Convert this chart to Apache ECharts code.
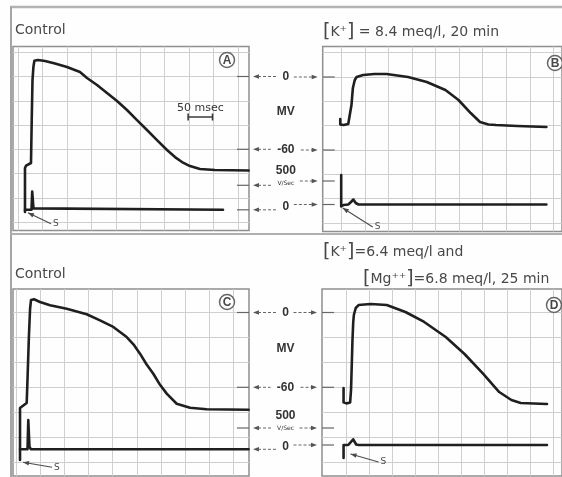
<!DOCTYPE html>
<html>
<head>
<meta charset="utf-8">
<script src="https://cdn.jsdelivr.net/npm/echarts@6/dist/echarts.min.js"></script>
<style>
html,body{margin:0;padding:0;background:#fefefe}
#c{width:562px;height:477px}
</style>
</head>
<body>
<div id="c"></div>
<script>
// Transmembrane action potentials (mV) and their upstroke velocity (V/sec).
// Time in msec, counted from the first vertical graticule line of each sweep.

// A: control
const apA = [[13.7,-111.7],[13.7,-75.4],[16,-73.5],[26,-71.3],[27.5,-36],[29.1,-3],[31,8],[33,13],[36.3,14],[40.4,13.6],[54.7,12.8],[75.2,10.7],[99.8,7.8],[126.4,3.7],[140.8,-1.2],[161.3,-7],[181.8,-13.6],[202.3,-20.2],[222.7,-27.6],[243.2,-35.9],[263.7,-44.1],[284.2,-52.4],[304.7,-60.6],[321.1,-66.4],[335.5,-70.5],[351.8,-73.8],[372.3,-76.3],[403.1,-77.1],[472,-77.5]];
const dvA = [[13.7,0],[27,0],[28.5,370],[31.1,30],[34.2,0],[419.5,0]];

// B: [K+] = 8.4 meq/l, 20 min
const apB = [[-2.4,-34.5],[-2.4,-39],[4.6,-39.5],[14.5,-38.6],[18.5,-37],[21.4,-23],[24.4,-9],[28.4,-2.5],[32.3,0],[46.2,1.6],[70,2.5],[95.8,2.5],[141.5,0],[181.2,-4.1],[220.8,-10.7],[248.6,-18.9],[274.4,-29.6],[294.2,-37],[312.1,-39],[327.9,-39.5],[373.6,-40.3],[435.1,-41.1]];
const dvB = [[-0.4,628],[-0.4,-43],[4.6,-10],[14.5,0],[20.4,53],[25.4,106],[30.4,32],[36.3,0],[435.1,0]];

// C: control
const apC = [[8.7,-118.3],[8.7,-76.6],[12,-75],[16.9,-74.2],[22.5,-72.6],[24.5,-50],[27,-20],[29.5,3],[31.4,10],[32.9,11.1],[37.6,10.6],[50,8.4],[70.7,5.8],[105.2,3],[146.5,-1.4],[174,-6.3],[201.4,-11.6],[229.1,-19.7],[243,-25.5],[256.6,-33],[270,-41.5],[284.1,-49.1],[298,-58],[311.8,-65.1],[332.4,-73.2],[359.9,-76.4],[394.4,-77.6],[481,-78]];
const dvC = [[8.7,0],[24.2,0],[25.8,688],[28.3,54],[31.4,0],[481,0]];

// D: [K+] = 6.4 meq/l and [Mg++] = 6.8 meq/l, 25 min
const apD = [[-5.5,-60.6],[-5.5,-72.1],[0.6,-72.9],[8.8,-72.1],[10.8,-61.6],[12.5,-40],[13.9,-22.1],[15.5,-8],[16.9,-2],[21,3.6],[27.1,6],[53.7,6.8],[88.4,6],[129.2,0.4],[170,-7.6],[216.9,-19.7],[257.8,-33.3],[298.6,-49.3],[333.3,-63.8],[359.8,-70.2],[380.2,-72.6],[437.3,-73.4]];
const dvD = [[-5.5,-382],[-5.5,0],[4.7,0],[8.8,0],[15.5,168],[22,15],[27.1,0],[437.3,0]];

// graticule and calibration marks
const timeTicks = [0,50,100,150,200,250,300,350,400,450];
const mvTicks = [20,0,-20,-40,-60,-80,-100,-120];
const mvMarks = [0,-60];
const vsMarks = [500,0];
const scaleBarMs = 50;

const panelLetters = ['A','B','C','D'];
const panelTitles = ['Control','{b|[}K\u207A{b|]} = 8.4 meq/l, 20 min','Control','{b|[}K\u207A{b|]}=6.4 meq/l and','{b|[}Mg\u207A\u207A{b|]}=6.8 meq/l, 25 min'];

// layout: box [left, top, width, height]; pixel column of t = 0; px per msec;
// pixel rows of 0 / -60 mV and of 0 / 500 V/sec
const layout = [
  {box:[13,46.5,236,184], t0:18.3, k:0.488, mv:[76.5,149.3], vs:[209.8,185.3], s:[3,3,26,14], circ:[227,60]},
  {box:[322.7,46.5,256,185], t0:342.7, k:0.504, mv:[77,150], vs:[204.5,181], s:[1.5,3.5,31.5,22.5], circ:[555,63]},
  {box:[13,289,236,187], t0:15.8, k:0.484, mv:[312.5,387.3], vs:[449.3,428], s:[3,13,32,18], circ:[227,302]},
  {box:[322,289,256,187], t0:347.7, k:0.49, mv:[312.5,387.3], vs:[445,428], s:[7,9,35,17], circ:[554,305]}
];
const traces = [[apA,dvA],[apB,dvB],[apC,dvC],[apD,dvD]];

const INK = '#1f1f1f';
const GRAT = '#cfcfcf';
const TXT = '#484848';
const FONT = '"DejaVu Sans", sans-serif';

function yRange(top, h, pix0, pixRef, refVal) {
  const k = (pix0 - pixRef) / refVal;
  return {max: (pix0 - top) / k, min: -(top + h - pix0) / k};
}
function xRange(left, w, pix0, k) {
  return {min: -(pix0 - left) / k, max: (left + w - pix0) / k};
}

const grids = [], xAxes = [], yAxes = [], series = [];
layout.forEach((L, i) => {
  const [l, t, w, h] = L.box;
  grids.push({left: l, top: t, width: w, height: h, show: true, borderColor: '#8f8f8f', borderWidth: 1.5, backgroundColor: 'transparent', containLabel: false});
  const xr = xRange(l, w, L.t0, L.k);
  xAxes.push({gridIndex: i, type: 'value', min: xr.min, max: xr.max,
    axisLine: {show: false}, axisLabel: {show: false},
    axisTick: {show: false, customValues: timeTicks},
    splitLine: {show: true, lineStyle: {color: GRAT, width: 1}}});
  const mr = yRange(t, h, L.mv[0], L.mv[1], -60);
  yAxes.push({gridIndex: i, type: 'value', min: mr.min, max: mr.max,
    axisLine: {show: false}, axisLabel: {show: false},
    axisTick: {show: false, customValues: mvTicks},
    splitLine: {show: true, lineStyle: {color: GRAT, width: 1}}});
  const vr = yRange(t, h, L.vs[0], L.vs[1], 500);
  yAxes.push({gridIndex: i, type: 'value', min: vr.min, max: vr.max, show: false, splitLine: {show: false}});
  series.push({type: 'line', xAxisIndex: i, yAxisIndex: 2 * i, data: traces[i][0], showSymbol: false, symbol: 'none',
    lineStyle: {color: INK, width: 2.6, join: 'round', cap: 'round'}, z: 3, clip: false});
  series.push({type: 'line', xAxisIndex: i, yAxisIndex: 2 * i + 1, data: traces[i][1], showSymbol: false, symbol: 'none',
    lineStyle: {color: INK, width: 2.6, join: 'round', cap: 'round'}, z: 3, clip: false});
});

// 50 msec calibration bar in panel A
const barStart = 348, barLevel = -33.4;
series.push({type: 'line', xAxisIndex: 0, yAxisIndex: 0,
  data: [[barStart, barLevel], [barStart + scaleBarMs, barLevel]],
  symbol: 'rect', symbolSize: [1.6, 7], showSymbol: true,
  itemStyle: {color: '#3a3a3a'}, lineStyle: {color: '#3a3a3a', width: 1.4}, z: 4});

const chart = echarts.init(document.getElementById('c'));
chart.setOption({
  animation: false,
  backgroundColor: '#fefefe',
  grid: grids, xAxis: xAxes, yAxis: yAxes, series: series
});

// annotations placed from the axes
const g = [];
function line(x1, y1, x2, y2, stroke, lw, dash) {
  g.push({type: 'line', shape: {x1, y1, x2, y2}, style: {stroke, lineWidth: lw, lineDash: dash || null}, silent: true});
}
function text(x, y, s, size, align, extra) {
  g.push(Object.assign({type: 'text', x, y, silent: true, style: Object.assign({text: s, fill: TXT,
    font: size + 'px ' + FONT, textAlign: align || 'left', textVerticalAlign: 'middle'}, extra && extra.style || {})}, extra && extra.el || {}));
}
function arrowHead(x, y, dir) {
  g.push({type: 'polygon', shape: {points: [[x, y], [x - 6 * dir, y - 2.3], [x - 6 * dir, y + 2.3]]}, style: {fill: '#555'}, silent: true});
}

// outer frame and divider
line(10, 7, 562, 7, '#b3b3b3', 2.5);
line(11, 7, 11, 477, '#a5a5a5', 2);
line(10, 234, 562, 234, '#b0b0b0', 2);

// titles
const rich = {b: {fontSize: 19, fill: TXT, fontFamily: FONT}};
text(15, 30, panelTitles[0], 14);
text(323, 32, panelTitles[1], 14, 'left', {style: {rich}});
text(15, 274, panelTitles[2], 14);
text(323, 252, panelTitles[3], 14, 'left', {style: {rich}});
text(363, 279, panelTitles[4], 14, 'left', {style: {rich}});

// circled panel letters
layout.forEach((L, i) => {
  g.push({type: 'circle', shape: {cx: L.circ[0], cy: L.circ[1], r: 7.5}, style: {fill: '#fff', stroke: '#666', lineWidth: 1.5}, silent: true});
  text(L.circ[0], L.circ[1] + 0.5, panelLetters[i], 8, 'center', {style: {fontWeight: 'bold'}});
});

// stimulus markers
layout.forEach((L, i) => {
  const p = chart.convertToPixel({xAxisIndex: i, yAxisIndex: 2 * i + 1}, [traces[i][1][0][0], 0]);
  const [a, b, c, d] = L.s;
  line(p[0] + a, p[1] + b, p[0] + c, p[1] + d, '#4a4a4a', 1.1);
  const ang = Math.atan2(d - b, c - a);
  const hx = p[0] + a, hy = p[1] + b;
  g.push({type: 'polygon', shape: {points: [[hx, hy],
    [hx + 6 * Math.cos(ang) - 2.3 * Math.sin(ang), hy + 6 * Math.sin(ang) + 2.3 * Math.cos(ang)],
    [hx + 6 * Math.cos(ang) + 2.3 * Math.sin(ang), hy + 6 * Math.sin(ang) - 2.3 * Math.cos(ang)]]},
    style: {fill: '#4a4a4a'}, silent: true});
  text(p[0] + c + 2, p[1] + d, 'S', 9, 'left');
});

// 50 msec label
const bp = chart.convertToPixel({xAxisIndex: 0, yAxisIndex: 0}, [barStart + scaleBarMs / 2, barLevel]);
text(bp[0], bp[1] - 9, scaleBarMs + ' msec', 11, 'center', {style: {fill: '#333'}});

// calibration arrows between the panel pairs
[[0, 1], [2, 3]].forEach(([li, ri]) => {
  const Lb = layout[li].box, Rb = layout[ri].box;
  const xr = Lb[0] + Lb[2], xl = Rb[0];
  const cx = (xr + xl) / 2;
  const lv = [], rv = [];
  mvMarks.forEach(v => {
    lv.push(chart.convertToPixel({yAxisIndex: 2 * li}, v));
    rv.push(chart.convertToPixel({yAxisIndex: 2 * ri}, v));
  });
  vsMarks.forEach(v => {
    lv.push(chart.convertToPixel({yAxisIndex: 2 * li + 1}, v));
    rv.push(chart.convertToPixel({yAxisIndex: 2 * ri + 1}, v));
  });
  const labels = [String(mvMarks[0]), String(mvMarks[1]), '', String(vsMarks[1])];
  const gaps = [8, 15, 14, 8];
  for (let j = 0; j < 4; j++) {
    const yl = lv[j], yr = rv[j];
    line(xr - 12, yl, xr, yl, '#666', 1.2);
    arrowHead(xr + 4, yl, -1);
    line(xr + 9, yl, cx - gaps[j], yl, '#666', 1, [3, 2]);
    line(cx + gaps[j], yr, xl - 9, yr, '#666', 1, [3, 2]);
    arrowHead(xl - 5, yr, 1);
    line(xl, yr, xl + 12, yr, '#666', 1.2);
    if (labels[j]) text(cx, (yl + yr) / 2, labels[j], 11, 'center', {style: {fill: '#333', fontWeight: 'bold'}});
  }
  text(cx, (lv[0] + lv[1]) / 2 - 1, 'MV', 10, 'center', {style: {fill: '#333', fontWeight: 'bold'}});
  text(cx, (lv[2] + rv[2]) / 2 - 12, String(vsMarks[0]), 11, 'center', {style: {fill: '#333', fontWeight: 'bold'}});
  text(cx, (lv[2] + rv[2]) / 2, 'V/Sec', 6, 'center', {style: {fill: '#333'}});
});

chart.setOption({graphic: {elements: g}});
</script>
</body>
</html>
